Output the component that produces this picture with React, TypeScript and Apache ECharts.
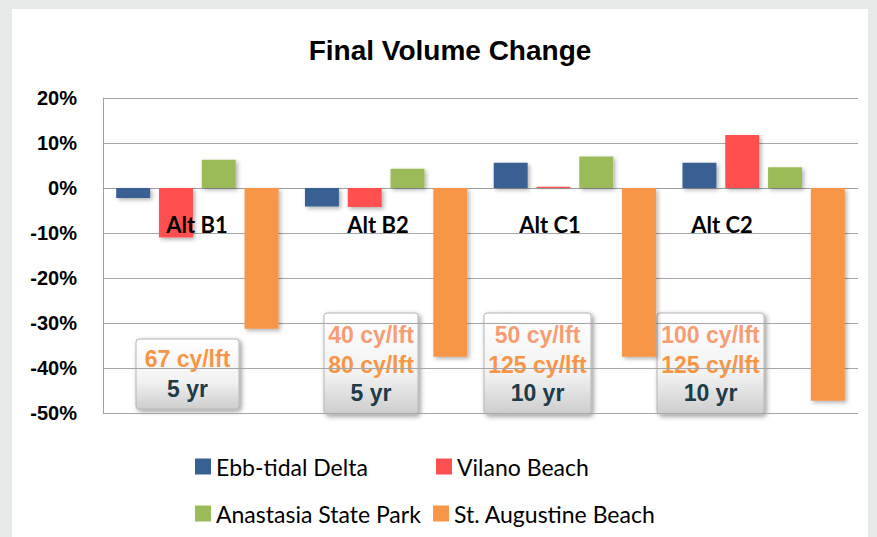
import React, { useEffect, useRef } from "react";
import * as echarts from "echarts";

const categories = ["Alt B1", "Alt B2", "Alt C1", "Alt C2"];
const seriesNames = ["Ebb-tidal Delta", "Vilano Beach", "Anastasia State Park", "St. Augustine Beach"];
const ebbTidal = [-2.2, -4.1, 5.6, 5.6];
const vilano = [-11.0, -4.2, 0.3, 11.8];
const anastasia = [6.3, 4.3, 7.0, 4.6];
const stAugustine = [-31.3, -37.5, -37.5, -47.3];
const yTicks = [-50, -40, -30, -20, -10, 0, 10, 20];
const volumeLines = [["67 cy/lft"], ["40 cy/lft", "80 cy/lft"], ["50 cy/lft", "125 cy/lft"], ["100 cy/lft", "125 cy/lft"]];
const durations = ["5 yr", "5 yr", "10 yr", "10 yr"];

const colors = ["#386193", "#FF5050", "#9BBB59", "#F79646"];

export default function App() {
  const ref = useRef<HTMLDivElement>(null);
  useEffect(() => {
    document.body.style.margin = "0";
    const chart = echarts.init(ref.current!, undefined, { renderer: "svg" });
    const labelPos = [
      [197, 224],
      [378, 224],
      [550, 224],
      [722, 224],
    ];
    const boxes = [
      { x: 136, y: 339, w: 103, h: 70 },
      { x: 324, y: 313, w: 94, h: 101 },
      { x: 484, y: 313, w: 107, h: 101 },
      { x: 657, y: 313, w: 107, h: 101 },
    ];
    const graphic: any[] = [
      {
        type: "rect",
        z: -10,
        silent: true,
        shape: { x: 12, y: 9, width: 856, height: 540 },
        style: { fill: "#ffffff" },
      },
    ];
    categories.forEach((c, i) => {
      graphic.push({
        type: "text",
        z: 50,
        x: labelPos[i][0],
        y: labelPos[i][1],
        style: {
          text: c,
          fill: "#000",
          font: "bold 22px Lato",
          align: "center",
          verticalAlign: "middle",
        },
      });
      const b = boxes[i];
      const children: any[] = [
        {
          type: "rect",
          shape: { x: 0, y: 0, width: b.w, height: b.h, r: 3 },
          style: {
            fill: new echarts.graphic.LinearGradient(0, 0, 0, 1, [
              { offset: 0, color: "#FFFFFF" },
              { offset: 0.6, color: "#F2F2F2" },
              { offset: 1, color: "#CDCDCD" },
            ]),
            stroke: "#B5B5B5",
            lineWidth: 1,
            shadowBlur: 5,
            shadowColor: "rgba(0,0,0,0.4)",
            shadowOffsetX: 2,
            shadowOffsetY: 2,
          },
        },
      ];
      const lines = volumeLines[i];
      const offsets = lines.length === 1 ? [20, 50] : [22, 52, 80];
      lines.forEach((t, j) => {
        children.push({
          type: "text",
          x: b.w / 2,
          y: offsets[j],
          style: {
            text: t,
            fill: lines.length > 1 && j === 0 ? "#F89C74" : "#F79646",
            font: "bold 23px 'Liberation Sans'",
            align: "center",
            verticalAlign: "middle",
          },
        });
      });
      children.push({
        type: "text",
        x: b.w / 2,
        y: offsets[lines.length],
        style: {
          text: durations[i],
          fill: "#1E3B48",
          font: "bold 23px 'Liberation Sans'",
          align: "center",
          verticalAlign: "middle",
        },
      });
      graphic.push({ type: "group", x: b.x, y: b.y, z: 60, children });
    });

    const legendPos = [
      [195, 455],
      [436, 455],
      [195, 502],
      [433, 502],
    ];
    const legends = seriesNames.map((n, i) => ({
      show: true,
      data: [n],
      left: legendPos[i][0],
      top: legendPos[i][1],
      padding: 0,
      icon: "rect",
      itemWidth: 16,
      itemHeight: 16,
      textStyle: { fontFamily: "Lato", fontSize: 23, color: "#000" },
    }));

    const makeSeries = (name: string, data: number[], color: string) => ({
      name,
      type: "bar",
      data,
      barGap: "26%",
      barCategoryGap: "14%",
      itemStyle: {
        color,
        shadowBlur: 4,
        shadowColor: "rgba(0,0,0,0.3)",
        shadowOffsetX: 2,
        shadowOffsetY: 2,
      },
    });

    chart.setOption({
      animation: false,
      backgroundColor: "#E6EBE9",
      title: {
        text: "Final Volume Change",
        left: 445,
        top: 31,
        textAlign: "center",
        textStyle: { fontFamily: "Liberation Sans", fontWeight: "bold", fontSize: 28, color: "#000" },
      },
      legend: legends,
      grid: { left: 103, right: 19, top: 98, bottom: 124, containLabel: false },
      xAxis: {
        type: "category",
        data: categories,
        axisLine: { onZero: true, lineStyle: { color: "#A0A0A0", width: 1 } },
        axisTick: { show: false },
        axisLabel: { show: false },
      },
      yAxis: {
        type: "value",
        min: yTicks[0],
        max: yTicks[yTicks.length - 1],
        interval: 10,
        axisLine: { show: true, lineStyle: { color: "#A0A0A0" } },
        axisTick: { show: false },
        splitLine: { lineStyle: { color: "#A6A6A6", width: 1 } },
        axisLabel: {
          margin: 26,
          formatter: "{value}%",
          fontFamily: "Liberation Sans",
          fontWeight: "bold",
          fontSize: 20,
          color: "#000",
        },
      },
      graphic,
      series: [
        makeSeries(seriesNames[0], ebbTidal, colors[0]),
        makeSeries(seriesNames[1], vilano, colors[1]),
        makeSeries(seriesNames[2], anastasia, colors[2]),
        makeSeries(seriesNames[3], stAugustine, colors[3]),
      ],
    });
    return () => chart.dispose();
  }, []);
  return <div ref={ref} style={{ width: 877, height: 537 }} />;
}
